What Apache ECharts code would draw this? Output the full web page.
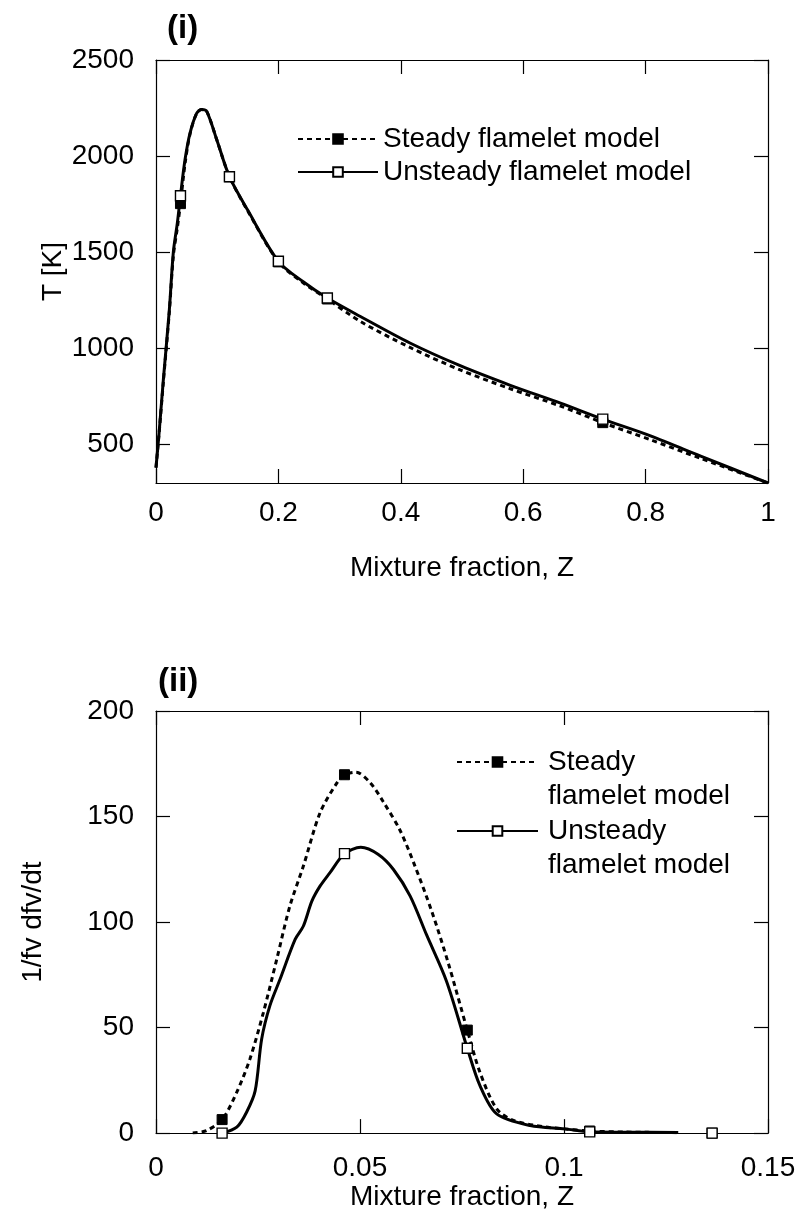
<!DOCTYPE html>
<html><head><meta charset="utf-8">
<script src="https://cdn.jsdelivr.net/npm/echarts@6/dist/echarts.min.js"></script>
<style>html,body{margin:0;padding:0;background:#fff}#c{width:800px;height:1212px}</style>
</head><body><div id="c"></div>
<script>
// ---- Panel (i): temperature vs mixture fraction ----
const topZ          = [0, 0.005, 0.012, 0.0218, 0.0283, 0.035, 0.04, 0.0474, 0.0556, 0.0666, 0.0747, 0.0829, 0.0993, 0.12, 0.15, 0.2, 0.24, 0.28, 0.334, 0.415, 0.497, 0.579, 0.661, 0.73, 0.808, 0.89, 1.0];
const topSteadyT    = [380, 555, 825, 1190, 1480, 1630, 1753, 1960, 2115, 2224, 2242, 2233, 2085, 1893, 1715, 1450, 1342, 1257, 1140, 1005, 888, 790, 700, 614, 525, 428, 300];
const topUnsteadyT  = [380, 560, 837, 1201, 1500, 1655, 1794, 1981, 2120, 2224, 2242, 2233, 2085, 1893, 1718, 1453, 1348, 1262, 1166, 1028, 910, 808, 715, 632, 545, 440, 300];
const topMarkerZ    = [0.04, 0.12, 0.2, 0.28, 0.73];
const topYTicks     = [500, 1000, 1500, 2000, 2500];

// ---- Panel (ii): 1/fv dfv/dt vs mixture fraction ----
const botZSteady    = [0.009, 0.0124, 0.0162, 0.0198, 0.023, 0.0263, 0.0296, 0.0328, 0.0361, 0.0402, 0.0443, 0.0462, 0.049, 0.0525, 0.0557, 0.0598, 0.0635, 0.0676, 0.0716, 0.0763, 0.0794, 0.0835, 0.0876, 0.095, 0.1, 0.1063, 0.115, 0.128, 0.132, 0.1363];
const botSteadyV    = [0, 1.2, 6.4, 19.4, 35, 57, 82.4, 107.5, 126.4, 151.7, 165.8, 169.8, 171, 166, 157, 143.5, 126.4, 105, 80.8, 48.8, 28.8, 11.5, 6, 3, 2, 1, 0.5, 0.2, null, 0];
const botZUnsteady  = [0.0162, 0.0198, 0.0222, 0.0243, 0.0259, 0.0279, 0.0304, 0.0341, 0.0361, 0.0382, 0.0402, 0.0426, 0.0462, 0.0502, 0.0545, 0.0582, 0.0623, 0.0663, 0.0712, 0.0763, 0.0794, 0.0835, 0.0917, 0.1002, 0.1063, 0.115, 0.128, 0.132, 0.1363];
const botUnsteadyV  = [0, 2.8, 9.9, 20, 44.6, 60.3, 72.9, 91.8, 98, 109.9, 117, 123.3, 132.4, 135.4, 132, 124.9, 112.3, 94, 72, 40.2, 22.5, 9.1, 3.6, 2, 0.6, 0.4, 0.3, null, 0];
const botMarkerZ    = [0.0162, 0.0462, 0.0763, 0.1063, 0.1363];

const names = {
  topSteady: 'Steady flamelet model',
  topUnsteady: 'Unsteady flamelet model',
  botSteady: 'Steady\nflamelet model',
  botUnsteady: 'Unsteady\nflamelet model'
};

function build(xs, ys, marks) {
  return xs.map((x, i) => {
    if (ys[i] === null) return { value: [x, '-'] };
    if (marks.includes(x)) return { value: [x, ys[i]] };
    return { value: [x, ys[i]], symbol: 'none' };
  });
}

const FONT = 'Liberation Sans';
const FS = 28;
const black = '#000';

function frameAxis(gridIndex, pos, min, max, extra) {
  return Object.assign({
    type: 'value', gridIndex: gridIndex, position: pos, min: min, max: max,
    axisLine: { show: true, onZero: false, lineStyle: { color: black, width: 1.2 } },
    axisTick: { show: true, inside: true, length: 14, lineStyle: { color: black, width: 1.2 } },
    axisLabel: { show: false },
    splitLine: { show: false }
  }, extra || {});
}

const plain = v => String(v);
const labelStyle = { color: black, fontSize: FS, fontFamily: FONT, formatter: plain };
const nameStyle = { color: black, fontSize: FS, fontFamily: FONT };

const steadyLine = { color: black, width: 3, type: [5, 4] };
const unsteadyLine = { color: black, width: 3, type: 'solid' };
const steadyItem = { color: black, borderColor: black, borderWidth: 1 };
const unsteadyItem = { color: '#fff', borderColor: black, borderWidth: 1.4 };

const option = {
  animation: false,
  backgroundColor: '#fff',
  textStyle: { fontFamily: FONT },
  title: [
    { text: '(i)', left: 167, top: 12, padding: 0, textStyle: { fontSize: 33, fontWeight: 'bold', color: black, fontFamily: FONT } },
    { text: '(ii)', left: 158, top: 665, padding: 0, textStyle: { fontSize: 33, fontWeight: 'bold', color: black, fontFamily: FONT } }
  ],
  grid: [
    { left: 156, top: 60, width: 612, height: 423 },
    { left: 156, top: 711, width: 612, height: 423 }
  ],
  xAxis: [
    frameAxis(0, 'bottom', 0, 1, {
      interval: 0.2,
      axisLabel: Object.assign({ show: true, margin: 16 }, labelStyle),
      name: 'Mixture fraction, Z', nameLocation: 'middle', nameGap: 71, nameTextStyle: nameStyle
    }),
    frameAxis(0, 'top', 0, 1, { interval: 0.2 }),
    frameAxis(1, 'bottom', 0, 0.15, {
      interval: 0.05,
      axisLabel: Object.assign({ show: true, margin: 21 }, labelStyle),
      name: 'Mixture fraction, Z', nameLocation: 'middle', nameGap: 44, nameTextStyle: nameStyle
    }),
    frameAxis(1, 'top', 0, 0.15, { interval: 0.05 })
  ],
  yAxis: [
    frameAxis(0, 'left', 300, 2500, {
      axisLabel: Object.assign({ show: true, margin: 22, customValues: topYTicks }, labelStyle),
      axisTick: { show: true, inside: true, length: 14, customValues: topYTicks, lineStyle: { color: black, width: 1.2 } },
      name: 'T [K]', nameLocation: 'middle', nameGap: 89, nameMoveOverlap: false, nameTextStyle: nameStyle
    }),
    frameAxis(0, 'right', 300, 2500, {
      axisTick: { show: true, inside: true, length: 14, customValues: topYTicks, lineStyle: { color: black, width: 1.2 } }
    }),
    frameAxis(1, 'left', 0, 200, {
      interval: 50,
      axisLabel: Object.assign({ show: true, margin: 22 }, labelStyle),
      name: '1/fv dfv/dt', nameLocation: 'middle', nameGap: 109, nameMoveOverlap: false, nameTextStyle: nameStyle
    }),
    frameAxis(1, 'right', 0, 200, { interval: 50 })
  ],
  legend: [
    {
      orient: 'vertical', left: 297, top: 124, padding: 0, itemGap: 3,
      itemWidth: 80, itemHeight: 12, selectedMode: false,
      data: [names.topSteady, names.topUnsteady],
      textStyle: { color: black, fontSize: FS, fontFamily: FONT, lineHeight: 30 }
    },
    {
      orient: 'vertical', left: 456, top: 711, padding: 0, itemGap: -33,
      itemWidth: 81, itemHeight: 12, selectedMode: false,
      data: [names.botSteady, names.botUnsteady],
      formatter: name => ' \n' + name,
      textStyle: { color: black, fontSize: FS, fontFamily: FONT, lineHeight: 34, padding: [0, 0, 0, 5] }
    }
  ],
  series: [
    {
      name: names.topSteady, type: 'line', xAxisIndex: 0, yAxisIndex: 0,
      smooth: 0.3, symbol: 'rect', symbolSize: 10, showSymbol: true,
      lineStyle: steadyLine, itemStyle: steadyItem,
      data: build(topZ, topSteadyT, topMarkerZ)
    },
    {
      name: names.topUnsteady, type: 'line', xAxisIndex: 0, yAxisIndex: 0,
      smooth: 0.3, symbol: 'rect', symbolSize: 10, showSymbol: true,
      lineStyle: unsteadyLine, itemStyle: unsteadyItem,
      data: build(topZ, topUnsteadyT, topMarkerZ)
    },
    {
      name: names.botSteady, type: 'line', xAxisIndex: 2, yAxisIndex: 2,
      smooth: 0.3, symbol: 'rect', symbolSize: 10, showSymbol: true, connectNulls: false,
      lineStyle: steadyLine, itemStyle: steadyItem,
      data: build(botZSteady, botSteadyV, botMarkerZ)
    },
    {
      name: names.botUnsteady, type: 'line', xAxisIndex: 2, yAxisIndex: 2,
      smooth: 0.3, symbol: 'rect', symbolSize: 10, showSymbol: true, connectNulls: false,
      lineStyle: unsteadyLine, itemStyle: unsteadyItem,
      data: build(botZUnsteady, botUnsteadyV, botMarkerZ)
    }
  ]
};

const chart = echarts.init(document.getElementById('c'), null, { renderer: 'canvas' });
chart.setOption(option);
</script>
</body></html>
